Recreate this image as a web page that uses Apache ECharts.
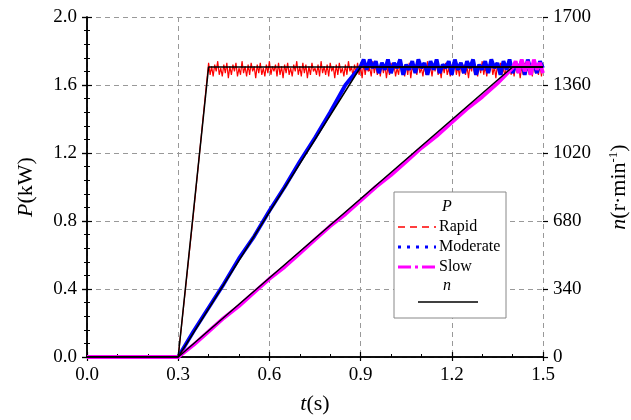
<!DOCTYPE html>
<html>
<head>
<meta charset="utf-8">
<script src="https://cdn.jsdelivr.net/npm/echarts@6/dist/echarts.min.js"></script>
<style>html,body{margin:0;padding:0;background:#fff}#c{width:631px;height:420px}</style>
</head>
<body>
<div id="c"></div>
<script>
// ---- data ----
const xTicks = [0, 0.3, 0.6, 0.9, 1.2, 1.5];
const pTicks = [0, 0.4, 0.8, 1.2, 1.6, 2.0];
const nTicks = [0, 340, 680, 1020, 1360, 1700];
const seriesNames = ['Rapid', 'Moderate', 'Slow'];

const startTime = 0.3;          // s, step begins
const rampStep = 0.05;          // s between ramp samples

const rapidRamp = [0, 0.84];
const rapidPlateauStart = 0.40;
const rapidPlateauStep = 0.005;
const rapidPlateau = [
1.73,1.66,1.71,1.65,1.72,1.68,1.74,1.66,1.70,1.65,
1.72,1.67,1.73,1.64,1.71,1.66,1.72,1.68,1.73,1.65,
1.70,1.66,1.74,1.67,1.71,1.65,1.72,1.66,1.73,1.68,
1.71,1.64,1.72,1.67,1.73,1.66,1.70,1.65,1.72,1.67,
1.74,1.66,1.71,1.68,1.72,1.65,1.73,1.66,1.71,1.64,
1.72,1.67,1.73,1.66,1.70,1.65,1.72,1.68,1.74,1.66,
1.71,1.65,1.73,1.67,1.72,1.64,1.71,1.66,1.73,1.68,
1.70,1.66,1.72,1.65,1.74,1.67,1.71,1.66,1.72,1.65,
1.73,1.68,1.71,1.64,1.72,1.66,1.73,1.67,1.70,1.65,
1.72,1.66,1.74,1.68,1.71,1.65,1.72,1.67,1.73,1.66,
1.71,1.64,1.73,1.66,1.72,1.68,1.70,1.65,1.74,1.67,
1.72,1.66,1.71,1.65,1.73,1.67,1.72,1.64,1.71,1.66,
1.73,1.68,1.72,1.65,1.70,1.66,1.74,1.67,1.71,1.65,
1.72,1.66,1.73,1.64,1.71,1.68,1.72,1.66,1.73,1.67,
1.70,1.65,1.72,1.66,1.74,1.67,1.71,1.65,1.72,1.68,
1.73,1.66,1.71,1.64,1.72,1.67,1.73,1.66,1.70,1.65,
1.72,1.68,1.74,1.66,1.71,1.65,1.73,1.67,1.72,1.66,
1.71,1.64,1.72,1.68,1.73,1.66,1.70,1.65,1.72,1.67,
1.74,1.66,1.71,1.65,1.72,1.68,1.73,1.66,1.71,1.64,
1.72,1.67,1.73,1.66,1.70,1.65,1.72,1.68,1.74,1.66,
1.71,1.65,1.73,1.67,1.72,1.64,1.71,1.66,1.73,1.68,
1.70,1.66,1.72,1.65,1.73,1.67,1.71,1.66,1.72,1.65,
1.72];

const moderateRamp = [0,0.15,0.29,0.43,0.58,0.71,0.86,1.00,1.15,1.29,1.44,1.60];
const moderatePlateauStart = 0.90;
const moderatePlateauStep = 0.01;
const moderatePlateau = [
1.71,1.75,1.69,1.75,1.70,1.74,1.67,1.73,1.69,1.75,
1.67,1.73,1.70,1.75,1.66,1.72,1.69,1.74,1.67,1.75,
1.70,1.73,1.66,1.74,1.69,1.75,1.67,1.72,1.70,1.74,
1.66,1.75,1.69,1.73,1.67,1.74,1.70,1.75,1.66,1.72,
1.69,1.74,1.67,1.75,1.70,1.73,1.66,1.74,1.69,1.75,
1.67,1.72,1.70,1.74,1.66,1.75,1.69,1.73,1.67,1.74,1.70];

const slowRamp = [0,0.07,0.15,0.23,0.30,0.38,0.46,0.53,0.61,0.69,0.77,0.84,0.92,1.00,1.07,1.15,1.23,1.30,1.38,1.46,1.53,1.61];
const slowPlateauStart = 1.40;
const slowPlateauStep = 0.01;
const slowPlateau = [1.70,1.74,1.67,1.75,1.68,1.74,1.66,1.75,1.69,1.73,1.67];

const nRampEnds = [0.4, 0.9, 1.4];   // s
const nFinal = 1450;                 // r/min

// ---- build series points ----
function buildP(ramp, plateauStart, plateauStep, plateau) {
  const pts = [[0, 0]];
  ramp.forEach((v, i) => pts.push([+(startTime + i * rampStep).toFixed(3), v]));
  plateau.forEach((v, i) => pts.push([+(plateauStart + i * plateauStep).toFixed(3), v]));
  return pts;
}
const rapidData = buildP(rapidRamp, rapidPlateauStart, rapidPlateauStep, rapidPlateau);
const moderateData = buildP(moderateRamp, moderatePlateauStart, moderatePlateauStep, moderatePlateau);
const slowData = buildP(slowRamp, slowPlateauStart, slowPlateauStep, slowPlateau);
const nData = nRampEnds.map(te => [[0, 0], [startTime, 0], [te, nFinal], [1.5, nFinal]]);

const FONT = 'Liberation Serif';
const black = '#000';

const chart = echarts.init(document.getElementById('c'), null, {renderer: 'canvas'});

const baseAxisLine = {show: true, lineStyle: {color: black, width: 1.5}};
const dashed = {show: true, lineStyle: {color: '#999', type: [5, 4], width: 1}};
const nameRich = {
  i: {fontStyle: 'italic', fontFamily: FONT, fontSize: 22, color: black},
  r: {fontFamily: FONT, fontSize: 22, color: black},
  s: {fontFamily: FONT, fontSize: 13, color: black, verticalAlign: 'top', padding: [0, 0, 12, 0]}
};

chart.setOption({
  animation: false,
  backgroundColor: '#fff',
  textStyle: {fontFamily: FONT},
  grid: {left: 87, right: 88, top: 17, bottom: 63, containLabel: false, outerBoundsMode: 'none'},
  xAxis: [
    {
      type: 'value', min: 0, max: 1.5, interval: 0.3, position: 'bottom',
      axisLine: baseAxisLine,
      axisTick: {show: true, inside: true, length: 5, lineStyle: {color: black, width: 1.2}},
      minorTick: {show: true, splitNumber: 3, length: 3, lineStyle: {color: black, width: 1}},
      splitLine: dashed,
      axisLabel: {color: black, fontFamily: FONT, fontSize: 19, margin: 9,
        formatter: v => v.toFixed(1)},
      name: '{i|t}{r|(s)}', nameLocation: 'middle', nameGap: 36,
      nameTextStyle: {color: black, fontFamily: FONT, fontSize: 22, rich: nameRich}
    },
    {
      type: 'value', min: 0, max: 1.5, interval: 0.3, position: 'bottom',
      axisLine: {show: false}, axisLabel: {show: false}, splitLine: {show: false},
      axisTick: {show: true, inside: false, length: 4, lineStyle: {color: black, width: 1.2}}
    },
    {
      type: 'value', min: 0, max: 1.5, interval: 0.3, position: 'top',
      axisLine: baseAxisLine, axisLabel: {show: false}, splitLine: {show: false},
      axisTick: {show: false}
    }
  ],
  yAxis: [
    {
      type: 'value', min: 0, max: 2.0, interval: 0.4, position: 'left',
      axisLine: baseAxisLine,
      axisTick: {show: true, inside: true, length: 5, lineStyle: {color: black, width: 1.2}},
      minorTick: {show: true, splitNumber: 5, length: 3, lineStyle: {color: black, width: 1}},
      splitLine: dashed,
      axisLabel: {color: black, fontFamily: FONT, fontSize: 19, margin: 10,
        formatter: v => v.toFixed(1)},
      name: '{i|P}{r|(kW)}', nameLocation: 'middle', nameGap: 50,
      nameTextStyle: {color: black, fontFamily: FONT, fontSize: 22, rich: nameRich}
    },
    {
      type: 'value', min: 0, max: 2.0, interval: 0.4, position: 'left',
      axisLine: {show: false}, axisLabel: {show: false}, splitLine: {show: false},
      axisTick: {show: true, inside: false, length: 5, lineStyle: {color: black, width: 1.2}}
    },
    {
      type: 'value', min: 0, max: 1700, interval: 340, position: 'right',
      axisLine: baseAxisLine,
      axisTick: {show: true, inside: true, length: 5, lineStyle: {color: black, width: 1.2}},
      minorTick: {show: true, splitNumber: 5, length: 3, lineStyle: {color: black, width: 1}},
      splitLine: {show: false},
      axisLabel: {color: black, fontFamily: FONT, fontSize: 19, margin: 10,
        formatter: v => String(v)},
      name: '{i|n}{r|(r·min}{s|-1}{r|)}', nameLocation: 'middle', nameGap: 64, nameRotate: 90,
      nameTextStyle: {color: black, fontFamily: FONT, fontSize: 22, rich: nameRich}
    },
    {
      type: 'value', min: 0, max: 1700, interval: 340, position: 'right',
      axisLine: {show: false}, axisLabel: {show: false}, splitLine: {show: false},
      axisTick: {show: true, inside: false, length: 5, lineStyle: {color: black, width: 1.2}}
    }
  ],
  legend: {
    orient: 'vertical', left: 396, top: 219, z: 6, padding: 0,
    itemWidth: 38, itemHeight: 10, itemGap: 4, icon: 'none',
    textStyle: {color: black, fontFamily: FONT, fontSize: 16, lineHeight: 16},
    data: seriesNames
  },
  graphic: [
    {type: 'rect', z: 5, shape: {x: 394, y: 192, width: 112, height: 126},
      style: {fill: '#fff', stroke: '#888', lineWidth: 1}},
    {type: 'text', z: 7, x: 447, y: 207,
      style: {text: 'P', font: 'italic 16px "Liberation Serif"', fill: black, align: 'center', verticalAlign: 'middle'}},
    {type: 'line', z: 7, shape: {x1: 398, y1: 227, x2: 436, y2: 227},
      style: {stroke: '#ff0000', lineWidth: 1.6, lineDash: [7, 5]}},
    {type: 'line', z: 7, shape: {x1: 398, y1: 247, x2: 436, y2: 247},
      style: {stroke: '#0000ff', lineWidth: 3, lineDash: [3, 6]}},
    {type: 'line', z: 7, shape: {x1: 398, y1: 267, x2: 436, y2: 267},
      style: {stroke: '#ff00ff', lineWidth: 3, lineDash: [13, 4, 3, 4]}},
    {type: 'text', z: 7, x: 447, y: 286,
      style: {text: 'n', font: 'italic 16px "Liberation Serif"', fill: black, align: 'center', verticalAlign: 'middle'}},
    {type: 'line', z: 7, shape: {x1: 418, y1: 302, x2: 478, y2: 302},
      style: {stroke: black, lineWidth: 1.6}}
  ],
  series: [
    {name: 'Rapid', type: 'line', data: rapidData, xAxisIndex: 0, yAxisIndex: 0,
      symbol: 'none', lineStyle: {color: '#ff0000', width: 1.2}, itemStyle: {color: '#ff0000'}, z: 2},
    {name: 'Moderate', type: 'line', data: moderateData, xAxisIndex: 0, yAxisIndex: 0,
      symbol: 'none', lineStyle: {color: '#0000ff', width: 3.8}, itemStyle: {color: '#0000ff'}, z: 3},
    {name: 'Slow', type: 'line', data: slowData, xAxisIndex: 0, yAxisIndex: 0,
      symbol: 'none', lineStyle: {color: '#ff00ff', width: 3.8}, itemStyle: {color: '#ff00ff'}, z: 4},
    ...nData.map((d, k) => ({name: 'n' + k, type: 'line', data: d, xAxisIndex: 0, yAxisIndex: 2,
      symbol: 'none', lineStyle: {color: black, width: 1.5}, itemStyle: {color: black}, z: 5}))
  ]
});
</script>
</body>
</html>
